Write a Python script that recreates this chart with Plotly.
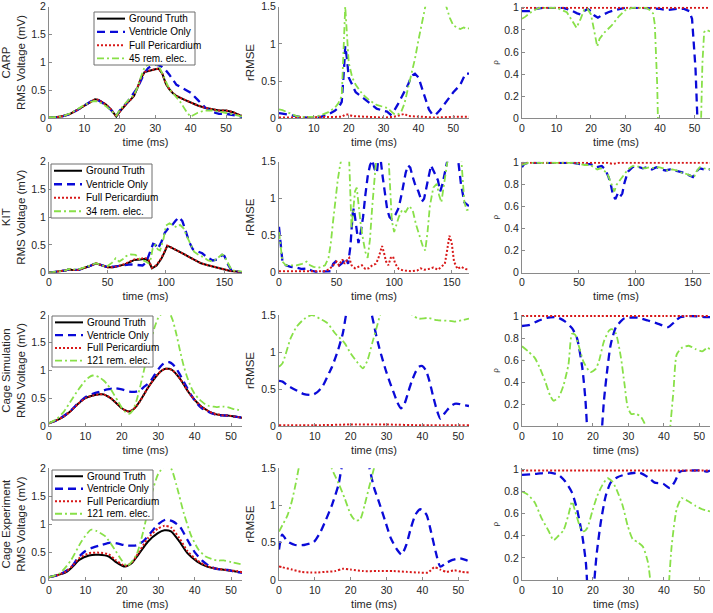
import plotly.graph_objects as go

# ---------------- data (time ms, value) ----------------
DATASETS = ["CARP", "KIT", "Cage Simulation", "Cage Experiment"]
REM_LABELS = ["45 rem. elec.", "34 rem. elec.", "121 rem. elec.", "121 rem. elec."]
SERIES = ["Ground Truth", "Ventricle Only", "Full Pericardium"]
X_MAX = [54.5, 165, 53, 53]
X_DTICK = [10, 50, 10, 10]

# ---- CARP ----
carp_rms_gt = [(0,0.02),(2,0.02),(4,0.04),(6,0.08),(8,0.15),(10,0.23),(12,0.31),(13,0.34),(14,0.33),(16,0.25),(17.5,0.16),(19,0.03),(20,0.12),(21,0.2),(22,0.27),(23,0.33),(24,0.4),(25,0.55),(26,0.72),(27,0.83),(28,0.85),(29,0.86),(30,0.88),(31,0.89),(32,0.8),(33,0.62),(34,0.52),(35,0.45),(36,0.4),(38,0.34),(40,0.28),(42,0.23),(44,0.19),(46,0.16),(48,0.14),(50,0.14),(51,0.13),(52,0.11),(53,0.08),(54,0.05),(55,0.04)]
carp_rms_vent = [(0,0.02),(2,0.02),(4,0.04),(6,0.08),(8,0.15),(10,0.23),(12,0.31),(13,0.33),(14,0.32),(16,0.24),(17.5,0.15),(19,0.04),(20,0.14),(22,0.28),(24,0.45),(25,0.55),(26,0.68),(27,0.82),(28,0.9),(29,0.94),(30,0.96),(31,0.95),(32,0.92),(33,0.86),(34,0.78),(35,0.68),(36,0.6),(38,0.53),(40,0.46),(42,0.33),(44,0.2),(46,0.12),(48,0.08),(50,0.08),(52,0.06),(54,0.03),(55,0.02)]
carp_rms_peri = [(0,0.02),(2,0.02),(4,0.04),(6,0.08),(8,0.15),(10,0.23),(12,0.31),(13,0.34),(14,0.33),(16,0.25),(17.5,0.16),(19,0.03),(20,0.12),(21,0.2),(22,0.27),(23,0.33),(24,0.41),(25,0.56),(26,0.72),(27,0.83),(28,0.85),(29,0.86),(30,0.88),(31,0.89),(32,0.8),(33,0.62),(34,0.52),(35,0.45),(36,0.4),(38,0.34),(40,0.28),(42,0.23),(44,0.19),(46,0.16),(48,0.14),(50,0.14),(51,0.13),(52,0.11),(53,0.08),(54,0.05),(55,0.04)]
carp_rms_rem = [(0,0.02),(2,0.02),(4,0.04),(6,0.09),(8,0.16),(10,0.24),(12,0.3),(13,0.31),(14,0.3),(16,0.22),(17.5,0.14),(19,0.05),(20,0.15),(22,0.3),(24,0.42),(25,0.55),(26,0.75),(27,0.92),(28,0.96),(29,0.97),(30,0.96),(31,0.94),(32,0.8),(33,0.65),(34,0.52),(35,0.45),(36,0.38),(37,0.3),(38,0.2),(39,0.1),(40,0.03),(41,0.06),(42,0.1),(44,0.14),(46,0.14),(48,0.12),(50,0.1),(52,0.07),(54,0.04),(55,0.03)]

carp_rrmse_vent = [(0,0.07),(2,0.05),(4,0.03),(6,0.02),(8,0.01),(10,0.01),(12,0.02),(14,0.05),(16,0.1),(17,0.14),(18,0.22),(18.7,0.7),(19,0.97),(19.5,0.8),(20,0.55),(21,0.45),(22,0.35),(24,0.28),(26,0.2),(28,0.13),(30,0.1),(31,0.09),(32,0.05),(33,0.1),(34,0.18),(36,0.35),(37,0.45),(38,0.57),(39,0.6),(40,0.55),(41,0.4),(42,0.25),(43,0.12),(44,0.05),(45,0.05),(46,0.1),(48,0.22),(50,0.35),(52,0.45),(53.5,0.6),(55,0.6)]
carp_rrmse_peri = [(0,0.01),(5,0.01),(10,0.01),(15,0.01),(18,0.02),(19,0.05),(20,0.05),(21,0.03),(25,0.02),(30,0.01),(33,0.02),(35,0.04),(36,0.06),(37,0.03),(40,0.02),(45,0.01),(50,0.02),(55,0.02)]
carp_rrmse_rem = [(0,0.12),(1,0.11),(3,0.07),(5,0.03),(7,0.02),(10,0.02),(12,0.04),(14,0.08),(16,0.14),(17,0.2),(18,0.3),(18.7,1.1),(19,1.5),(19.4,1.2),(20,0.75),(21,0.55),(22,0.45),(24,0.32),(26,0.24),(28,0.18),(30,0.15),(31,0.14),(32,0.1),(33,0.06),(34,0.05),(35,0.08),(36,0.2),(37,0.4),(38,0.6),(39,0.8),(40,1.05),(41,1.3),(42,1.5),(43,1.8),(45,2.2),(47,1.8),(48,1.5),(49,1.35),(50,1.25),(51,1.22),(52,1.2),(53,1.22),(54,1.2),(55,1.22)]

carp_rho_vent = [(0,0.97),(2,0.97),(4,0.99),(6,1.0),(12,1.0),(14,0.98),(16,0.95),(17,0.94),(18,0.97),(19,0.99),(20,0.97),(21,0.93),(22,0.91),(23,0.93),(25,0.96),(27,0.98),(30,1.0),(35,1.0),(40,0.99),(42,0.98),(45,0.99),(47,0.99),(48.5,0.97),(49.3,0.9),(50.3,0.45),(51.2,-0.3),(55,-0.3)]
carp_rho_peri = [(0,1.0),(20,1.0),(40,1.0),(55,1.0)]
carp_rho_rem = [(0,0.9),(1,0.92),(3,0.97),(5,1.0),(10,1.0),(13,0.96),(15,0.86),(15.8,0.82),(17,0.9),(18,0.98),(19,0.99),(20,0.94),(21,0.78),(21.8,0.65),(22.5,0.72),(24,0.78),(26,0.84),(28,0.92),(30,0.98),(32,1.0),(36,1.0),(37,0.98),(38,0.95),(38.5,0.85),(39.2,0.3),(39.6,-0.3),(51.7,-0.3),(52.3,0.5),(52.8,0.78),(53.5,0.8),(55,0.78)]

# ---- KIT ----
kit_rms_gt = [(0,0.0),(5,0.01),(10,0.02),(14,0.04),(17,0.06),(20,0.05),(25,0.05),(30,0.08),(35,0.12),(40,0.17),(43,0.15),(47,0.12),(50,0.1),(55,0.1),(60,0.12),(65,0.15),(70,0.2),(73,0.23),(78,0.24),(82,0.25),(85,0.22),(87,0.12),(88,0.08),(92,0.13),(96,0.25),(99,0.38),(101,0.48),(103,0.47),(106,0.44),(110,0.4),(115,0.34),(120,0.28),(125,0.22),(130,0.17),(135,0.14),(140,0.11),(145,0.09),(150,0.06),(155,0.03),(160,0.02),(165,0.01)]
kit_rms_vent = [(0,0.0),(5,0.01),(10,0.02),(14,0.04),(17,0.06),(20,0.05),(25,0.05),(30,0.08),(35,0.12),(40,0.17),(43,0.15),(47,0.12),(50,0.1),(55,0.11),(60,0.12),(65,0.14),(70,0.15),(75,0.14),(80,0.13),(83,0.18),(86,0.35),(89,0.52),(91,0.5),(93,0.43),(96,0.55),(99,0.72),(102,0.8),(105,0.85),(108,0.93),(111,1.0),(114,0.93),(117,0.75),(120,0.55),(123,0.42),(127,0.38),(131,0.35),(135,0.28),(140,0.22),(144,0.24),(148,0.32),(150,0.3),(153,0.15),(156,0.04),(160,0.02),(165,0.01)]
kit_rms_peri = [(0,0.0),(5,0.01),(10,0.02),(14,0.04),(17,0.06),(20,0.05),(25,0.05),(30,0.08),(35,0.12),(40,0.17),(43,0.15),(47,0.12),(50,0.1),(55,0.1),(60,0.12),(65,0.16),(70,0.21),(73,0.24),(78,0.25),(82,0.27),(85,0.24),(87,0.13),(88,0.09),(92,0.14),(96,0.26),(99,0.39),(101,0.49),(103,0.47),(106,0.44),(110,0.4),(115,0.34),(120,0.28),(125,0.22),(130,0.17),(135,0.14),(140,0.11),(145,0.09),(150,0.06),(155,0.03),(160,0.02),(165,0.01)]
kit_rms_rem = [(0,0.0),(5,0.01),(10,0.02),(14,0.04),(17,0.07),(20,0.06),(25,0.06),(30,0.09),(35,0.13),(40,0.17),(43,0.15),(47,0.12),(50,0.12),(54,0.18),(57,0.26),(60,0.2),(63,0.24),(66,0.3),(70,0.33),(74,0.32),(78,0.24),(82,0.21),(85,0.17),(87,0.25),(89,0.48),(91,0.5),(93,0.42),(95,0.4),(98,0.62),(100,0.85),(103,0.89),(106,0.86),(109,0.82),(112,0.86),(115,0.8),(118,0.65),(121,0.5),(124,0.38),(128,0.32),(132,0.28),(136,0.22),(140,0.2),(144,0.26),(148,0.33),(150,0.3),(153,0.18),(156,0.05),(160,0.03),(165,0.02)]

kit_rrmse_vent = [(0,0.62),(1.5,0.4),(3,0.15),(6,0.1),(10,0.08),(15,0.07),(20,0.05),(25,0.06),(28,0.03),(32,0.01),(40,0.01),(45,0.02),(47,0.12),(49,0.15),(51,0.08),(53,0.1),(55,0.13),(58,0.2),(60,0.12),(62,0.35),(64,0.8),(65,0.87),(67,0.62),(69,0.4),(71,0.55),(73,0.75),(75,1.05),(77,1.3),(79,1.45),(81,1.52),(83,1.4),(85,1.35),(86,1.5),(87,1.7),(90,1.3),(92,1.05),(94,0.85),(96,0.75),(98,0.72),(101,0.78),(104,0.88),(107,1.1),(110,1.35),(112,1.45),(114,1.42),(116,1.3),(118,1.2),(121,1.1),(124,0.96),(126,1.0),(129,1.25),(132,1.45),(135,1.35),(138,1.25),(140,1.1),(142,1.2),(144,1.35),(146,1.55),(150,1.8),(155,1.6),(158,1.2),(161,0.95),(165,0.9)]
kit_rrmse_peri = [(0,0.02),(10,0.02),(20,0.02),(30,0.01),(40,0.02),(44,0.05),(47,0.1),(50,0.15),(52,0.1),(55,0.18),(57,0.12),(59,0.17),(61,0.2),(63,0.1),(66,0.06),(69,0.08),(72,0.1),(75,0.05),(78,0.06),(81,0.1),(84,0.12),(86,0.18),(88,0.3),(89.5,0.36),(91,0.28),(93,0.15),(95,0.1),(97,0.2),(99,0.22),(101,0.12),(104,0.05),(108,0.03),(115,0.02),(120,0.03),(123,0.06),(126,0.04),(130,0.05),(134,0.07),(138,0.04),(141,0.08),(144,0.12),(146,0.3),(148,0.5),(150,0.4),(152,0.15),(155,0.05),(158,0.08),(162,0.05),(165,0.04)]
kit_rrmse_rem = [(0,0.55),(1.5,0.35),(3,0.15),(6,0.1),(10,0.1),(15,0.1),(20,0.12),(24,0.15),(27,0.1),(30,0.08),(35,0.07),(40,0.1),(43,0.2),(45,0.4),(47,0.7),(49,1.0),(51,1.25),(53,1.45),(55,1.55),(58,1.8),(61,1.5),(62,1.0),(63,0.6),(64.5,0.85),(66,1.1),(67.5,1.15),(69,0.9),(71,0.65),(73,0.45),(75,0.28),(77,0.2),(79,0.45),(81,0.9),(83,1.3),(84.5,1.55),(90,2.0),(95,1.6),(96,1.3),(97,0.9),(98,0.7),(100,0.55),(102,0.65),(104,0.75),(107,0.85),(110,0.82),(113,0.9),(116,0.85),(119,0.65),(122,0.5),(125,0.35),(127,0.3),(129,0.55),(131,0.9),(134,1.15),(137,1.2),(139,1.05),(141,0.95),(143,1.2),(145,1.5),(150,1.9),(158,1.6),(161,0.95),(163,0.85),(165,0.85)]

kit_rho_vent = [(0,0.96),(2,0.99),(5,1.0),(45,1.0),(50,0.99),(55,0.98),(60,0.99),(65,0.96),(70,0.97),(73,0.94),(76,0.87),(78,0.8),(80,0.7),(82,0.67),(84,0.72),(86,0.69),(88,0.72),(90,0.82),(93,0.92),(97,0.96),(100,0.97),(103,0.96),(106,0.95),(110,0.96),(114,0.94),(118,0.96),(122,0.94),(126,0.93),(130,0.94),(134,0.93),(138,0.92),(142,0.91),(146,0.89),(150,0.87),(153,0.92),(156,0.95),(160,0.94),(165,0.94)]
kit_rho_peri = [(0,1.0),(75,1.0),(80,0.99),(85,1.0),(165,1.0)]
kit_rho_rem = [(0,0.98),(3,0.99),(5,1.0),(45,1.0),(50,0.99),(55,0.98),(60,0.98),(63,0.96),(66,0.94),(69,0.95),(72,0.93),(75,0.9),(77,0.84),(79,0.78),(81,0.74),(83,0.8),(85,0.83),(87,0.85),(90,0.9),(93,0.94),(97,0.97),(100,0.97),(104,0.96),(108,0.95),(112,0.96),(116,0.95),(120,0.96),(124,0.95),(128,0.93),(132,0.94),(136,0.93),(140,0.91),(144,0.9),(148,0.88),(151,0.87),(153,0.92),(156,0.96),(160,0.95),(165,0.94)]

# ---- Cage Simulation ----
sim_rms_gt = [(0,0.05),(2,0.1),(4,0.17),(6,0.27),(8,0.4),(10,0.5),(12,0.55),(14,0.57),(15,0.57),(16,0.54),(17,0.5),(18,0.44),(19,0.38),(20,0.32),(21,0.28),(22,0.26),(23,0.29),(24,0.36),(25,0.45),(26,0.56),(27,0.67),(28,0.77),(29,0.86),(30,0.94),(31,1.0),(32,1.03),(33,1.03),(34,1.0),(35,0.93),(36,0.85),(37,0.75),(38,0.64),(39,0.55),(40,0.47),(41,0.4),(42,0.34),(43,0.3),(44,0.26),(45,0.23),(46,0.21),(47,0.2),(48,0.19),(49,0.19),(50,0.18),(51,0.17),(52,0.16),(53,0.15)]
sim_rms_vent = [(0,0.05),(2,0.1),(4,0.18),(6,0.28),(8,0.41),(10,0.52),(12,0.58),(14,0.62),(16,0.66),(18,0.68),(20,0.66),(22,0.62),(24,0.62),(25,0.64),(26,0.7),(27,0.75),(28,0.82),(29,0.92),(30,1.02),(31,1.1),(32,1.15),(33,1.15),(34,1.11),(35,1.03),(36,0.92),(37,0.8),(38,0.68),(39,0.56),(40,0.46),(41,0.38),(42,0.32),(43,0.28),(44,0.25),(45,0.22),(46,0.2),(47,0.19),(48,0.19),(50,0.18),(51,0.17),(52,0.16),(53,0.15)]
sim_rms_peri = [(0,0.05),(2,0.1),(4,0.17),(6,0.27),(8,0.4),(10,0.5),(12,0.55),(14,0.57),(15,0.57),(16,0.54),(17,0.5),(18,0.44),(19,0.38),(20,0.32),(21,0.28),(22,0.26),(23,0.29),(24,0.36),(25,0.45),(26,0.56),(27,0.67),(28,0.77),(29,0.86),(30,0.94),(31,1.0),(32,1.03),(33,1.03),(34,1.0),(35,0.93),(36,0.85),(37,0.75),(38,0.64),(39,0.55),(40,0.47),(41,0.4),(42,0.34),(43,0.3),(44,0.26),(45,0.23),(46,0.21),(47,0.2),(48,0.19),(49,0.19),(50,0.18),(51,0.17),(52,0.16),(53,0.15)]
sim_rms_rem = [(0,0.05),(2,0.12),(4,0.25),(6,0.45),(8,0.65),(10,0.82),(11,0.88),(12,0.91),(13,0.9),(14,0.87),(15,0.82),(16,0.75),(17,0.66),(18,0.55),(19,0.44),(20,0.33),(21,0.25),(22,0.22),(23,0.28),(24,0.45),(25,0.7),(26,0.98),(27,1.28),(28,1.55),(29,1.78),(30,1.95),(31,2.03),(32,2.08),(33,2.05),(34,1.9),(35,1.65),(36,1.35),(37,1.08),(38,0.87),(39,0.7),(40,0.58),(41,0.5),(42,0.44),(43,0.39),(44,0.36),(45,0.35),(46,0.34),(47,0.35),(48,0.35),(49,0.34),(50,0.32),(51,0.3),(52,0.29),(53,0.28)]

sim_rrmse_vent = [(0,0.61),(1,0.6),(2.3,0.55),(4.5,0.49),(7,0.43),(9.2,0.42),(10.5,0.45),(12.2,0.54),(14,0.72),(14.8,0.8),(16.5,1.03),(17.8,1.25),(18.7,1.5),(22,2.2),(25.9,1.5),(27,1.25),(28,1.05),(29,0.88),(30,0.72),(31,0.58),(32,0.45),(33,0.32),(34,0.24),(35,0.3),(36,0.45),(37,0.6),(38,0.72),(39,0.8),(40,0.81),(41,0.75),(42,0.6),(43,0.4),(44,0.22),(45,0.1),(46,0.16),(47,0.22),(48,0.27),(49,0.3),(50,0.3),(51,0.29),(52,0.28),(53,0.27)]
sim_rrmse_peri = [(0,0.01),(10,0.01),(20,0.02),(30,0.02),(40,0.01),(53,0.01)]
sim_rrmse_rem = [(0,0.8),(1,0.85),(3.2,1.18),(4.9,1.34),(7.1,1.45),(9.2,1.5),(11.4,1.45),(13.5,1.39),(15.7,1.25),(18.3,1.12),(20,0.98),(21.7,0.87),(23.4,0.78),(24.7,0.89),(26,1.12),(27.3,1.34),(28.2,1.5),(32,2.0),(37.2,1.5),(39,1.45),(41.6,1.46),(44.1,1.43),(47.6,1.42),(48.9,1.41),(51,1.43),(53,1.45)]

sim_rho_vent = [(0,0.91),(2.2,0.92),(4.1,0.95),(7,0.985),(9.8,0.99),(12.2,0.95),(14.1,0.89),(15.5,0.8),(17,0.53),(17.9,0.23),(18.4,-0.05),(18.8,-0.3),(22.1,-0.3),(22.5,-0.05),(23.1,0.23),(24.1,0.53),(25,0.74),(26.5,0.9),(28.9,0.98),(32.7,0.985),(35.5,0.96),(38.4,0.93),(41.2,0.9),(43.1,0.95),(44.6,0.99),(47.9,1.0),(51.7,0.99),(53,0.99)]
sim_rho_peri = [(0,1.0),(20,1.0),(40,1.0),(53,1.0)]
sim_rho_rem = [(0,0.725),(1.7,0.68),(3.6,0.62),(5,0.53),(6.5,0.41),(7.9,0.28),(8.9,0.23),(10.3,0.26),(11.7,0.37),(13.1,0.56),(14.1,0.84),(15,0.83),(16,0.73),(17.4,0.58),(19.3,0.49),(20.8,0.52),(21.7,0.59),(23.1,0.77),(24.6,0.87),(25.5,0.88),(26.5,0.84),(27.9,0.62),(28.9,0.38),(29.8,0.17),(30.8,0.11),(32.2,0.11),(33.6,0.08),(35.5,-0.05),(36,-0.3),(41.3,-0.3),(41.7,-0.05),(42.7,0.32),(43.6,0.65),(45,0.71),(47,0.73),(48.9,0.7),(50.8,0.68),(52.2,0.71),(53,0.7)]

# ---- Cage Experiment ----
exp_rms_gt = [(0,0.05),(2,0.08),(4.7,0.14),(6.5,0.24),(8.3,0.36),(11,0.44),(13.7,0.45),(16.4,0.42),(18.2,0.33),(20,0.26),(20.9,0.24),(22.7,0.3),(24.5,0.45),(27.2,0.69),(29.9,0.84),(31.7,0.89),(33.5,0.87),(35.8,0.69),(38,0.48),(40.7,0.33),(43.4,0.24),(46.1,0.2),(49.7,0.17),(51.5,0.15),(53,0.14)]
exp_rms_vent = [(0,0.05),(3,0.1),(6,0.22),(8,0.4),(10,0.52),(12,0.58),(14,0.62),(17,0.67),(19,0.65),(21,0.62),(24,0.62),(26,0.7),(28,0.85),(30,1.0),(32,1.08),(34,1.05),(36,0.95),(38,0.72),(40,0.5),(42,0.35),(44,0.25),(46,0.2),(49,0.18),(51,0.15),(53,0.13)]
exp_rms_peri = [(0,0.05),(2,0.08),(4.7,0.15),(6.5,0.26),(8.3,0.39),(11,0.48),(13.7,0.49),(16.4,0.46),(18.2,0.36),(20,0.28),(20.9,0.25),(22.7,0.31),(24.5,0.48),(27.2,0.75),(29.9,0.92),(31.7,0.97),(33.5,0.94),(35.8,0.75),(38,0.52),(40.7,0.35),(43.4,0.25),(46.1,0.2),(49.7,0.17),(51.5,0.16),(53,0.14)]
exp_rms_rem = [(0,0.05),(3,0.12),(6,0.35),(9,0.7),(11.5,0.9),(13,0.88),(15.5,0.78),(18,0.55),(20,0.35),(21.5,0.25),(24,0.45),(26,0.9),(28,1.5),(30,1.9),(32,2.05),(33.5,2.0),(35,1.7),(37,1.2),(39,0.8),(41,0.55),(43,0.42),(46,0.35),(48,0.35),(50,0.32),(53,0.28)]

exp_rrmse_vent = [(0,0.41),(0.9,0.61),(2.3,0.52),(4.5,0.47),(7,0.47),(9.7,0.51),(11.4,0.63),(13.1,0.81),(14.8,1.01),(16.6,1.28),(17.4,1.49),(21,2.3),(25.2,1.51),(26.5,1.24),(27.8,1.06),(29.5,0.81),(31.2,0.56),(32.9,0.41),(34.2,0.34),(35.5,0.47),(36.8,0.7),(38.1,0.88),(39.4,0.95),(41.1,0.88),(42.4,0.65),(43.7,0.38),(45,0.18),(46.7,0.23),(48.4,0.27),(50.5,0.29),(52,0.27),(53,0.25)]
exp_rrmse_peri = [(0,0.18),(1,0.17),(3.6,0.14),(6.2,0.11),(8.8,0.1),(10.5,0.1),(13.1,0.11),(15.7,0.12),(17.8,0.15),(20,0.14),(23.4,0.12),(27.8,0.12),(32,0.12),(35.5,0.11),(39,0.1),(41.6,0.1),(43.3,0.17),(45,0.14),(46.7,0.11),(48.9,0.13),(51,0.11),(53,0.1)]
exp_rrmse_rem = [(0,0.65),(1,0.74),(2.3,0.86),(3.6,1.06),(4.9,1.35),(5.5,1.5),(10,2.3),(14.7,1.5),(16.6,1.3),(18.3,1.1),(20,0.88),(21.3,0.8),(22.6,0.81),(23.9,1.01),(25.2,1.26),(26.5,1.5),(30,2.2),(40,2.5),(53,2.5)]

exp_rho_vent = [(0,0.95),(4.1,0.96),(7.9,0.97),(10.3,0.95),(12.2,0.89),(14.1,0.79),(15.5,0.64),(17,0.4),(18,0.16),(18.4,-0.05),(18.7,-0.3),(20,-0.3),(20.3,-0.05),(21,0.22),(22.2,0.52),(23.6,0.76),(25,0.88),(26.9,0.93),(29.8,0.96),(33.1,0.97),(35.5,0.93),(37.4,0.88),(39.8,0.87),(41.7,0.83),(43.1,0.89),(44.6,0.98),(47.9,0.99),(50.8,0.99),(52.2,0.98),(53,0.99)]
exp_rho_peri = [(0,0.99),(20,0.99),(40,0.99),(53,0.99)]
exp_rho_rem = [(0,0.8),(1.7,0.77),(3.6,0.7),(5.5,0.56),(7.4,0.45),(8.9,0.36),(10.3,0.4),(11.7,0.45),(13.1,0.59),(14.1,0.71),(15,0.62),(16.5,0.47),(17.4,0.44),(18.4,0.47),(19.8,0.62),(21.2,0.76),(22.7,0.86),(24.1,0.92),(25.5,0.89),(26.9,0.8),(28.4,0.67),(29.8,0.49),(31.2,0.37),(32.7,0.34),(34.1,0.3),(35.5,0.16),(36.3,-0.05),(36.7,-0.3),(41,-0.3),(41.4,-0.05),(42.2,0.31),(43.6,0.64),(45,0.74),(47,0.71),(48.9,0.67),(50.8,0.64),(53,0.62)]

RMS = [
    [carp_rms_gt, carp_rms_vent, carp_rms_peri, carp_rms_rem],
    [kit_rms_gt, kit_rms_vent, kit_rms_peri, kit_rms_rem],
    [sim_rms_gt, sim_rms_vent, sim_rms_peri, sim_rms_rem],
    [exp_rms_gt, exp_rms_vent, exp_rms_peri, exp_rms_rem],
]
RRMSE = [
    [carp_rrmse_vent, carp_rrmse_peri, carp_rrmse_rem],
    [kit_rrmse_vent, kit_rrmse_peri, kit_rrmse_rem],
    [sim_rrmse_vent, sim_rrmse_peri, sim_rrmse_rem],
    [exp_rrmse_vent, exp_rrmse_peri, exp_rrmse_rem],
]
RHO = [
    [carp_rho_vent, carp_rho_peri, carp_rho_rem],
    [kit_rho_vent, kit_rho_peri, kit_rho_rem],
    [sim_rho_vent, sim_rho_peri, sim_rho_rem],
    [exp_rho_vent, exp_rho_peri, exp_rho_rem],
]

# ---------------- styling ----------------
W, H = 713, 613
FONT = "Liberation Sans, Arial, Helvetica, sans-serif"
TXT = "#262626"
AX = "#8a8a8a"
STYLE = {
    "gt": dict(color="#000000", width=2, dash="solid"),
    "vent": dict(color="#0a0ad8", width=2.3, dash="8px,5px"),
    "peri": dict(color="#d81818", width=2, dash="2px,2px"),
    "rem": dict(color="#88e048", width=1.8, dash="7px,3px,2px,3px"),
}
COLS_PX = [(49, 242), (279, 469), (522, 710)]
ROWS_PX = [(6.7, 118.3), (161.7, 272.7), (315, 426), (468.3, 580)]


def xy(pairs):
    return [p[0] for p in pairs], [p[1] for p in pairs]


fig = go.Figure()
layout = {}
for r in range(4):
    smooth = r >= 2
    for c in range(3):
        k = r * 3 + c + 1
        xa, ya = f"x{k}", f"y{k}"
        if c == 0:
            curves = list(zip(["gt", "vent", "peri", "rem"], RMS[r]))
        elif c == 1:
            curves = list(zip(["vent", "peri", "rem"], RRMSE[r]))
        else:
            curves = list(zip(["vent", "peri", "rem"], RHO[r]))
        for key, pts in curves:
            x, y = xy(pts)
            st = STYLE[key]
            fig.add_trace(go.Scatter(
                x=x, y=y, mode="lines", xaxis=xa, yaxis=ya, showlegend=False,
                line=dict(color=st["color"], width=st["width"], dash=st["dash"],
                          shape="spline" if smooth else "linear", smoothing=0.6),
                hoverinfo="skip"))
        x0, x1 = COLS_PX[c]
        y0, y1 = ROWS_PX[r]
        axis_common = dict(showline=True, linecolor=AX, linewidth=1, ticks="inside",
                           ticklen=3, tickcolor=AX, showgrid=False, zeroline=False,
                           automargin=False,
                           tickfont=dict(family=FONT, size=10.5, color=TXT), mirror=False)
        layout[f"xaxis{k}"] = dict(
            domain=[x0 / W, x1 / W], anchor=ya, range=[0, X_MAX[r]],
            tick0=0, dtick=X_DTICK[r],
            title=dict(text="time (ms)", font=dict(family=FONT, size=11, color=TXT), standoff=5),
            **axis_common)
        if c == 0:
            yr, ydt, ytitle, tsize = [0, 2], 0.5, f"{DATASETS[r]}<br>RMS Voltage (mV)", 11.5
        elif c == 1:
            yr, ydt, ytitle, tsize = [0, 1.5], 0.5, "rRMSE", 11.5
        else:
            yr, ydt, ytitle, tsize = [0, 1.01], 0.2, "ρ", 8
        layout[f"yaxis{k}"] = dict(
            domain=[1 - y1 / H, 1 - y0 / H], anchor=xa, range=yr, tick0=0, dtick=ydt,
            title=dict(text=ytitle, font=dict(family=FONT, size=tsize, color=TXT), standoff=4),
            **axis_common)

# ---------------- manual legends (one per row, in RMS panel) ----------------
LEG_BOX = [(94, 12, 195, 65), (51, 164, 152, 218), (52, 316, 153, 367), (52, 470, 153, 520)]
shapes, annots = [], []
px = lambda v: v / W
py = lambda v: 1 - v / H
for r in range(4):
    bx0, by0, bx1, by1 = LEG_BOX[r]
    shapes.append(dict(type="rect", xref="paper", yref="paper", x0=px(bx0), x1=px(bx1),
                       y0=py(by1), y1=py(by0), fillcolor="white",
                       line=dict(color="#6e6e6e", width=1), layer="above"))
    labels = SERIES + [REM_LABELS[r]]
    step = (by1 - by0) / 4.0
    for i, (key, lab) in enumerate(zip(["gt", "vent", "peri", "rem"], labels)):
        yc = by0 + step * (i + 0.5)
        st = STYLE[key]
        shapes.append(dict(type="line", xref="paper", yref="paper",
                           x0=px(bx0 + 3), x1=px(bx0 + 31), y0=py(yc), y1=py(yc),
                           line=dict(color=st["color"], width=st["width"], dash=st["dash"]),
                           layer="above"))
        annots.append(dict(xref="paper", yref="paper", x=px(bx0 + 33), y=py(yc),
                           text=lab, showarrow=False, xanchor="left", yanchor="middle",
                           font=dict(family=FONT, size=10, color="#000000")))

fig.update_layout(
    width=W, height=H, margin=dict(l=0, r=0, t=0, b=0),
    paper_bgcolor="white", plot_bgcolor="white", showlegend=False,
    shapes=shapes, annotations=annots, **layout)

fig.write_html("out.html", config={"displayModeBar": False},
               post_script="document.body.style.margin='0px';")
